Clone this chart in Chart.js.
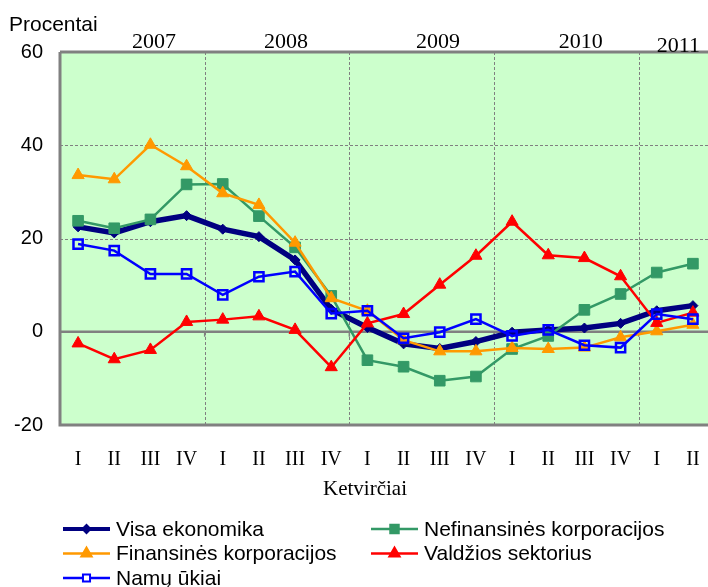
<!DOCTYPE html>
<html>
<head>
<meta charset="utf-8">
<script src="https://cdn.jsdelivr.net/npm/chart.js@4"></script>
<style>
  html, body { margin: 0; padding: 0; background: #fff; overflow: hidden; }
  #wrap { position: relative; width: 720px; height: 587px; }
</style>
</head>
<body>
<div id="wrap"><canvas id="chart" width="720" height="587"></canvas></div>
<script>
const quarters = ["I", "II", "III", "IV", "I", "II", "III", "IV", "I", "II", "III", "IV",
  "I", "II", "III", "IV", "I", "II"];
const years = ["2007", "2008", "2009", "2010", "2011"];
const yTicks = [-20, 0, 20, 40, 60];

const visaEkonomika = [22.5, 21.2, 23.6, 24.9, 22.0, 20.4, 15.4, 4.8, 0.9, -2.6, -3.6, -2.1, -0.1, 0.4, 0.8, 1.8, 4.5, 5.6];
const nefinansines = [23.8, 22.2, 24.1, 31.6, 31.7, 24.8, 18.1, 7.7, -6.1, -7.5, -10.5, -9.6, -3.7, -0.9, 4.7, 8.1, 12.7, 14.6];
const finansines = [33.6, 32.7, 40.1, 35.5, 29.7, 27.2, 19.1, 7.2, 4.5, -1.8, -4.2, -4.2, -3.5, -3.7, -3.4, -1.2, 0.1, 1.5];
const valdzios = [-2.5, -5.9, -3.9, 2.1, 2.6, 3.3, 0.4, -7.6, 1.8, 3.8, 10.1, 16.3, 23.6, 16.4, 15.8, 11.9, 1.9, 4.1];
const namuUkiai = [18.8, 17.4, 12.4, 12.4, 7.9, 11.8, 12.9, 3.9, 4.5, -1.4, -0.1, 2.7, -0.9, 0.4, -2.9, -3.4, 3.8, 2.7];

// where the year captions sit, in category units, and year boundaries
const yearPos = [2.1, 5.75, 9.95, 13.9, 16.6];
const yearBreaks = [4, 8, 12, 16];

const SANS = "'Liberation Sans', Arial, sans-serif";
const SERIF = "'Liberation Serif', 'Times New Roman', serif";
const GREY = "#808080";

function series(label, data, color, style, radius, width, order, fill) {
  return {
    label, data, order,
    borderColor: color,
    backgroundColor: color,
    borderWidth: width,
    pointStyle: style,
    pointRadius: radius,
    pointHoverRadius: radius,
    pointBackgroundColor: fill || color,
    pointBorderColor: color,
    pointBorderWidth: fill ? 2.5 : 1,
    tension: 0,
  };
}

const datasets = [
  series("Visa ekonomika", visaEkonomika, "#000080", "rectRot", 5, 5.5, 4),
  series("Nefinansinės korporacijos", nefinansines, "#339966", "rect", 7.5, 2.5, 3),
  series("Finansinės korporacijos", finansines, "#FF9900", "triangle", 7, 2.5, 2),
  series("Valdžios sektorius", valdzios, "#FF0000", "triangle", 7, 2.5, 1),
  series("Namų ūkiai", namuUkiai, "#0000FF", "rect", 6.5, 2.5, 0, "rgba(0,0,0,0)"),
];

const legendMarks = [
  { r: 4, w: 4 },
  { r: 6, w: 2.5 },
  { r: 6, w: 2.5 },
  { r: 6, w: 2.5 },
  { r: 5, w: 2.5, fill: "#ffffff" },
];

const framePlugin = {
  id: "frame",
  beforeDatasetsDraw(chart) {
    const { ctx, chartArea: a, scales: { x, y } } = chart;
    ctx.save();
    ctx.fillStyle = "#CCFFCC";
    ctx.fillRect(a.left, a.top, a.right - a.left, a.bottom - a.top);

    ctx.strokeStyle = GREY;
    ctx.lineWidth = 1;
    ctx.setLineDash([3, 2]);
    for (const v of [20, 40]) {
      const py = Math.round(y.getPixelForValue(v)) + 0.5;
      ctx.beginPath();
      ctx.moveTo(a.left, py);
      ctx.lineTo(a.right, py);
      ctx.stroke();
    }
    for (const b of yearBreaks) {
      const px = Math.round((x.getPixelForValue(b - 1) + x.getPixelForValue(b)) / 2) + 0.5;
      ctx.beginPath();
      ctx.moveTo(px, a.top);
      ctx.lineTo(px, a.bottom);
      ctx.stroke();
    }
    ctx.setLineDash([]);

    // zero line with small ticks at year breaks
    const y0 = y.getPixelForValue(0);
    ctx.lineWidth = 2.5;
    ctx.beginPath();
    ctx.moveTo(a.left, y0);
    ctx.lineTo(a.right, y0);
    ctx.stroke();
    ctx.lineWidth = 1.5;
    for (const b of yearBreaks) {
      const px = (x.getPixelForValue(b - 1) + x.getPixelForValue(b)) / 2;
      ctx.beginPath();
      ctx.moveTo(px, y0);
      ctx.lineTo(px, y0 + 5);
      ctx.stroke();
    }

    ctx.lineWidth = 3;
    ctx.beginPath();
    ctx.moveTo(a.left, a.top);
    ctx.lineTo(a.right, a.top);
    ctx.moveTo(a.left, a.top);
    ctx.lineTo(a.left, a.bottom);
    ctx.lineTo(a.right, a.bottom);
    ctx.stroke();
    ctx.restore();
  },
  afterDraw(chart) {
    const { ctx, scales: { x } } = chart;
    ctx.save();
    ctx.fillStyle = "#000";
    ctx.textBaseline = "middle";

    ctx.font = `21px ${SANS}`;
    ctx.textAlign = "left";
    ctx.fillText("Procentai", 9, 25);

    ctx.font = `22px ${SERIF}`;
    ctx.textAlign = "center";
    ctx.textBaseline = "alphabetic";
    years.forEach((yr, i) => {
      const p = yearPos[i];
      const lo = Math.floor(p);
      const px = x.getPixelForValue(lo) + (p - lo) * (x.getPixelForValue(lo + 1) - x.getPixelForValue(lo));
      ctx.fillText(yr, px, i === years.length - 1 ? 52 : 48);
    });

    ctx.font = `21px ${SERIF}`;
    ctx.textBaseline = "middle";
    ctx.fillText("Ketvirčiai", 365, 489);

    // legend, two columns
    const colX = [63, 371];
    chart.data.datasets.forEach((ds, i) => {
      const lx = colX[i % 2];
      const ly = 529 + Math.floor(i / 2) * 24.5;
      const m = legendMarks[i];
      ctx.strokeStyle = ds.borderColor;
      ctx.lineWidth = m.w;
      ctx.beginPath();
      ctx.moveTo(lx, ly);
      ctx.lineTo(lx + 47, ly);
      ctx.stroke();
      ctx.fillStyle = m.fill || ds.borderColor;
      ctx.lineWidth = 2;
      Chart.helpers.drawPoint(ctx, { pointStyle: ds.pointStyle, rotation: 0, radius: m.r, borderWidth: m.fill ? 2 : 1 }, lx + 23.5, ly);
      ctx.fillStyle = "#000";
      ctx.font = `21px ${SANS}`;
      ctx.textAlign = "left";
      ctx.fillText(ds.label, lx + 53, ly + 1);
    });
    ctx.restore();
  },
};

new Chart(document.getElementById("chart"), {
  type: "line",
  data: { labels: quarters, datasets },
  options: {
    responsive: false,
    animation: false,
    events: [],
    layout: { padding: { top: 52, right: 3, bottom: 82, left: 0 } },
    plugins: { legend: { display: false }, tooltip: { enabled: false } },
    scales: {
      x: {
        type: "category",
        offset: true,
        grid: { display: false },
        border: { display: false },
        ticks: {
          color: "#000",
          font: { family: SERIF, size: 20 },
          padding: 15,
          maxRotation: 0,
          autoSkip: false,
        },
        afterFit: (s) => { s.height = 80; },
      },
      y: {
        min: -20,
        max: 60,
        afterBuildTicks: (s) => { s.ticks = yTicks.map((v) => ({ value: v })); },
        grid: { display: false },
        border: { display: false },
        ticks: {
          color: "#000",
          font: { family: SANS, size: 20 },
          padding: 9,
        },
        afterFit: (s) => { s.width = 60; },
      },
    },
  },
  plugins: [framePlugin],
});
</script>
</body>
</html>
